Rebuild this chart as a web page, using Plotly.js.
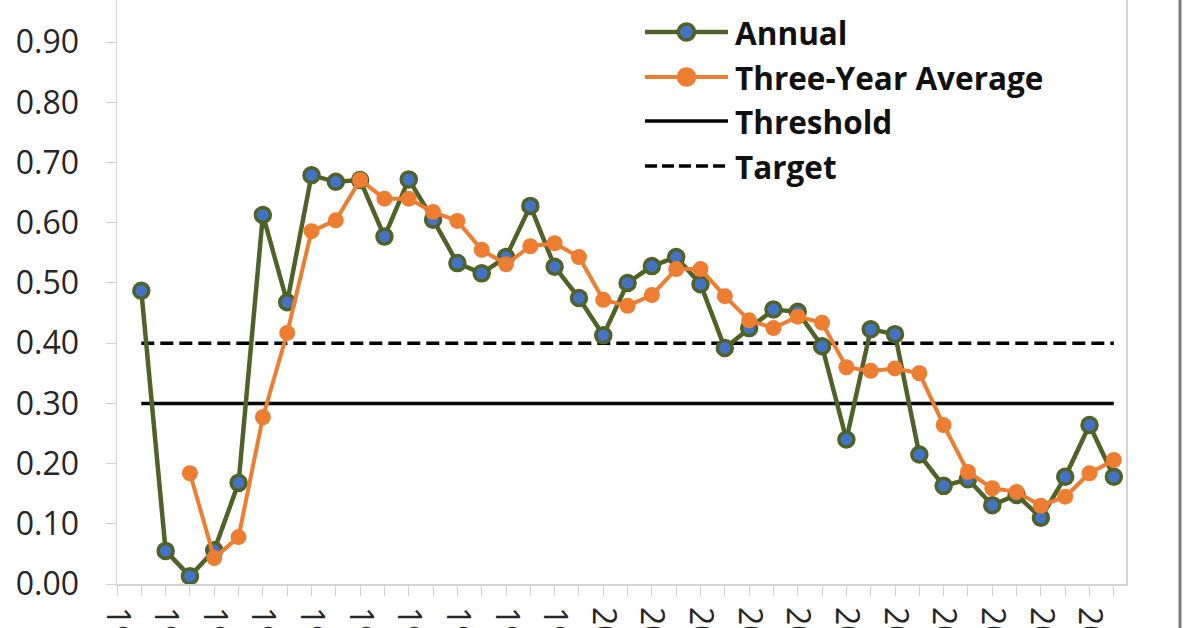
<!DOCTYPE html>
<html>
<head>
<meta charset="utf-8">
<script src="https://cdn.plot.ly/plotly-3.0.1.min.js"></script>
<style>
  html, body { margin: 0; padding: 0; background: #ffffff; }
  #chart { width: 1200px; height: 628px; }
</style>
</head>
<body>
<div id="chart"></div>
<script>
// Annual series, one value per year
const years = [1981, 1982, 1983, 1984, 1985, 1986, 1987, 1988, 1989, 1990,
               1991, 1992, 1993, 1994, 1995, 1996, 1997, 1998, 1999, 2000,
               2001, 2002, 2003, 2004, 2005, 2006, 2007, 2008, 2009, 2010,
               2011, 2012, 2013, 2014, 2015, 2016, 2017, 2018, 2019, 2020, 2021];
const annual = [0.487, 0.055, 0.013, 0.056, 0.168, 0.613, 0.468, 0.679, 0.668, 0.671,
                0.577, 0.672, 0.605, 0.533, 0.516, 0.543, 0.628, 0.527, 0.475, 0.413,
                0.500, 0.528, 0.543, 0.498, 0.392, 0.425, 0.456, 0.452, 0.395, 0.240,
                0.423, 0.415, 0.215, 0.163, 0.174, 0.131, 0.148, 0.110, 0.178, 0.264, 0.178];

// Three-year running average (first value once three years are available)
const avgYears = [1983, 1984, 1985, 1986, 1987, 1988, 1989, 1990,
                  1991, 1992, 1993, 1994, 1995, 1996, 1997, 1998, 1999, 2000,
                  2001, 2002, 2003, 2004, 2005, 2006, 2007, 2008, 2009, 2010,
                  2011, 2012, 2013, 2014, 2015, 2016, 2017, 2018, 2019, 2020, 2021];
const threeYearAvg = [0.184, 0.043, 0.078, 0.277, 0.417, 0.586, 0.604, 0.671,
                      0.640, 0.640, 0.618, 0.603, 0.555, 0.531, 0.561, 0.566, 0.543, 0.472,
                      0.462, 0.480, 0.523, 0.523, 0.478, 0.438, 0.425, 0.444, 0.434, 0.360,
                      0.354, 0.358, 0.350, 0.264, 0.186, 0.159, 0.153, 0.130, 0.145, 0.184, 0.206];

// Reference levels
const thresholdValue = 0.30;
const targetValue = 0.40;

// Axis ticks
const tickYears = [1980, 1982, 1984, 1986, 1988, 1990, 1992, 1994, 1996, 1998, 2000,
                   2002, 2004, 2006, 2008, 2010, 2012, 2014, 2016, 2018, 2020];
const tickLabels = ['1980', '1982', '1984', '1986', '1988', '1990', '1992', '1994', '1996', '1998', '2000',
                    '2002', '2004', '2006', '2008', '2010', '2012', '2014', '2016', '2018', '2020'];
const yTickVals = [0.0, 0.1, 0.2, 0.3, 0.4, 0.5, 0.6, 0.7, 0.8, 0.9];

const seriesNames = ['Annual', 'Three-Year Average', 'Threshold', 'Target'];

const GREEN = '#4F6228';
const BLUE = '#4472C4';
const ORANGE = '#ED7D31';
const BLACK = '#000000';
const FONT = '"Open Sans", "Liberation Sans", sans-serif';

const firstYear = years[0];
const lastYear = years[years.length - 1];

const traces = [
  {
    name: seriesNames[2], x: [firstYear, lastYear], y: [thresholdValue, thresholdValue],
    type: 'scatter', mode: 'lines', showlegend: false, hoverinfo: 'skip',
    line: { color: BLACK, width: 3.5 }
  },
  {
    name: seriesNames[3], x: [firstYear, lastYear], y: [targetValue, targetValue],
    type: 'scatter', mode: 'lines', showlegend: false, hoverinfo: 'skip',
    line: { color: BLACK, width: 3.5, dash: '13px,6px' }
  },
  {
    name: seriesNames[0], x: years, y: annual,
    type: 'scatter', mode: 'lines+markers', showlegend: false, cliponaxis: false,
    line: { color: GREEN, width: 4.5 },
    marker: { color: BLUE, size: 15, line: { color: GREEN, width: 3.5 } }
  },
  {
    name: seriesNames[1], x: avgYears, y: threeYearAvg,
    type: 'scatter', mode: 'lines+markers', showlegend: false, cliponaxis: false,
    line: { color: ORANGE, width: 4 },
    marker: { color: ORANGE, size: 16 }
  }
];

// Plot area geometry (px) used to place the key in paper units
const W = 1200, H = 628;
const M = { l: 117, r: 74, t: 0, b: 44 };
const plotW = W - M.l - M.r;
const plotH = H - M.t - M.b;
const px = v => (v - M.l) / plotW;
const py = v => (H - M.b - v) / plotH;

// Key: sample line, optional marker, label
const keyX0 = 645, keyX1 = 728, keyTextX = 733;
const keyRows = [32, 77, 121, 166];
const keyStyles = [
  { color: GREEN, width: 4.5, dash: 'solid', fill: BLUE, edge: GREEN },
  { color: ORANGE, width: 4, dash: 'solid', fill: ORANGE, edge: ORANGE },
  { color: BLACK, width: 3.5, dash: 'solid' },
  { color: BLACK, width: 3.5, dash: '12px,5px' }
];

const shapes = [];
const annotations = [];
keyRows.forEach((rowY, i) => {
  const s = keyStyles[i];
  shapes.push({
    type: 'line', xref: 'paper', yref: 'paper',
    x0: px(keyX0), x1: px(keyX1), y0: py(rowY), y1: py(rowY),
    line: { color: s.color, width: s.width, dash: s.dash }
  });
  if (s.fill) {
    const cx = (keyX0 + keyX1) / 2, r = 8;
    shapes.push({
      type: 'circle', xref: 'paper', yref: 'paper',
      x0: px(cx - r), x1: px(cx + r), y0: py(rowY + r), y1: py(rowY - r),
      fillcolor: s.fill, line: { color: s.edge, width: 3.5 }
    });
  }
  annotations.push({
    xref: 'paper', yref: 'paper', x: px(keyTextX), y: py(rowY),
    xanchor: 'left', yanchor: 'middle', showarrow: false,
    text: '<b>' + seriesNames[i] + '</b>',
    font: { family: FONT, size: 31.5, color: '#111111' }
  });
});

// Outer frame edge on the right
shapes.push({
  type: 'line', xref: 'paper', yref: 'paper',
  x0: px(1180), x1: px(1180), y0: -0.2, y1: 1.2,
  line: { color: '#7a7a7a', width: 3 }
});

const layout = {
  width: W, height: H,
  margin: M,
  paper_bgcolor: '#ffffff',
  plot_bgcolor: '#ffffff',
  showlegend: false,
  font: { family: FONT, color: '#262626' },
  xaxis: {
    range: [1980, 2021.5],
    tickmode: 'array', tickvals: tickYears, ticktext: tickLabels,
    tickangle: 90,
    ticks: 'outside', ticklen: 10, tickwidth: 1, tickcolor: '#cfcfcf',
    minor: { dtick: 1, tick0: 1980, ticks: 'outside', ticklen: 10, tickwidth: 1, tickcolor: '#cfcfcf', showgrid: false },
    ticklabelstandoff: 5,
    tickfont: { family: FONT, size: 32, color: '#262626' },
    showline: true, linecolor: '#d4d4d4', linewidth: 1.5,
    showgrid: false, zeroline: false, fixedrange: true
  },
  yaxis: {
    range: [0, 0.97],
    tickmode: 'array', tickvals: yTickVals, tickformat: '.2f',
    ticks: 'outside', ticklen: 10, tickwidth: 1, tickcolor: '#cfcfcf',
    ticklabelstandoff: 20,
    tickfont: { family: FONT, size: 32, color: '#262626' },
    showline: true, mirror: true, linecolor: '#d4d4d4', linewidth: 1.5,
    showgrid: false, zeroline: false, fixedrange: true
  },
  shapes: shapes,
  annotations: annotations
};

Plotly.newPlot('chart', traces, layout, { displayModeBar: false, staticPlot: true });
</script>
</body>
</html>
